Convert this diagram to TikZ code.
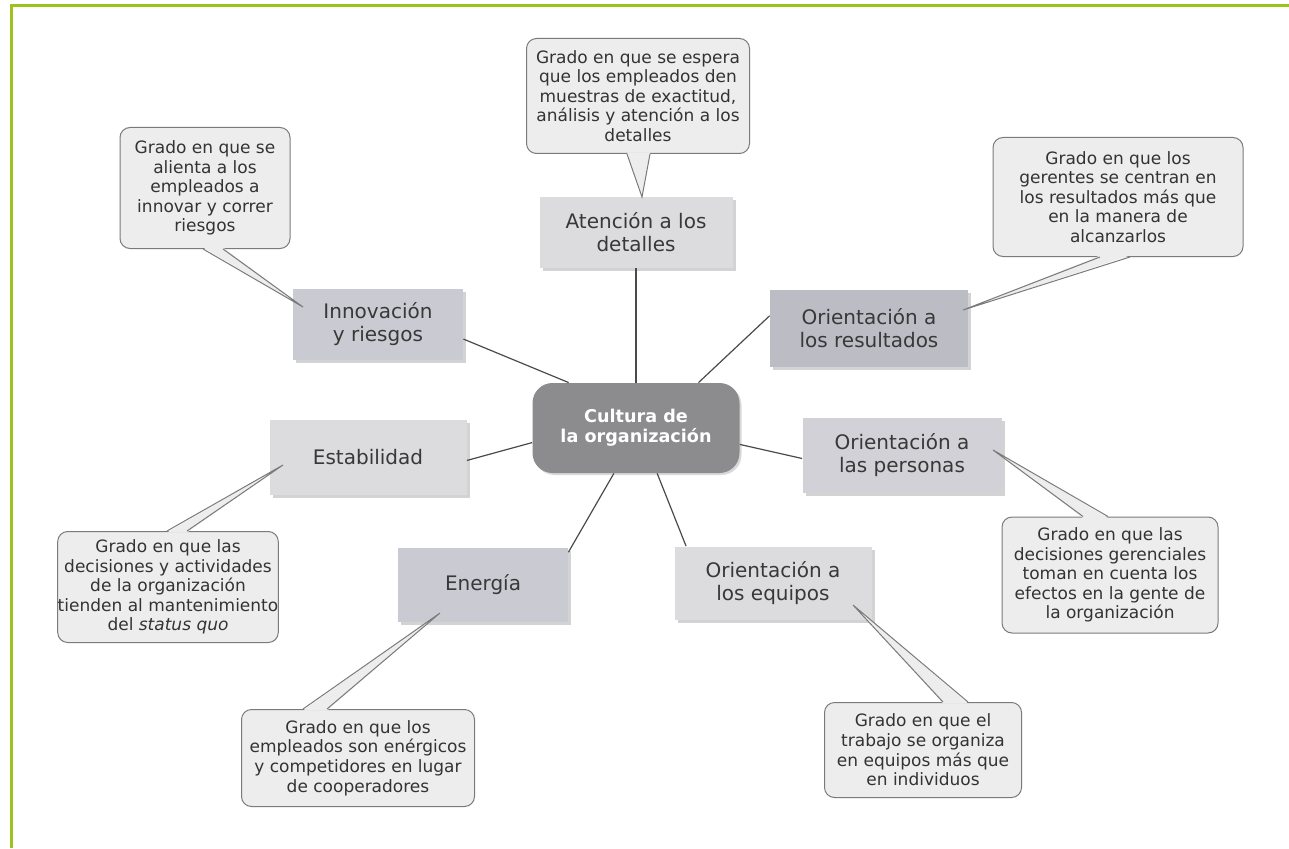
\documentclass[tikz,border=0pt]{standalone}
\usepackage{fontspec}
\setmainfont{DejaVu Sans}
\usetikzlibrary{calc,shadows}

\definecolor{marco}{HTML}{9CC31B}
\definecolor{globo}{HTML}{EDEDED}
\definecolor{borde}{HTML}{7A7A7A}
\definecolor{linea}{HTML}{4A4A4A}
\definecolor{centro}{HTML}{8C8C8F}
\definecolor{grisA}{HTML}{DCDCDF}
\definecolor{grisB}{HTML}{CACAD2}
\definecolor{grisC}{HTML}{BCBCC5}
\definecolor{grisD}{HTML}{D1D1D7}

\tikzset{
	caja/.style={fill=#1, text=black!78, align=center, inner sep=0pt,
		font=\fontsize{10}{11.5}\selectfont,
		drop shadow={shadow xshift=1.5pt, shadow yshift=-1.5pt, opacity=0.35}},
	nucleo/.style={fill=centro, text=white, align=center, inner sep=0pt,
		rounded corners=10pt, font=\fontsize{8.8}{10}\selectfont\bfseries,
		drop shadow={shadow xshift=1pt, shadow yshift=-1pt, opacity=0.3}},
	globotxt/.style={fill=globo, draw=borde, line width=0.5pt, rounded corners=5pt,
		align=center, inner sep=0pt, text=black!80, font=\fontsize{8.5}{9.8}\selectfont},
	punta/.style={fill=globo},
	puntaborde/.style={draw=borde, line width=0.5pt},
	conector/.style={draw=linea, line width=0.6pt}
}

\begin{document}
\begin{tikzpicture}[x=0.5pt,y=0.5pt]
		\useasboundingbox (0,0) rectangle (1289,848);
		\draw[marco,line width=1.5pt] (11.5,0) -- (11.5,842.5) -- (1289,842.5);
		%
		\node[nucleo, minimum width=103.5pt, minimum height=45pt] (cult) at (636,420) {Cultura de\\la organización};
		%
		\node[caja=grisA, minimum width=96.5pt, minimum height=35.5pt] (aten) at (636,616) {Atención a los\\detalles};
		\node[caja=grisB, minimum width=85pt, minimum height=35.5pt] (innov) at (378,524) {Innovación\\y riesgos};
		\node[caja=grisC, minimum width=99pt, minimum height=38.5pt] (res) at (869,520) {Orientación a\\los resultados};
		\node[caja=grisA, minimum width=98.5pt, minimum height=37.5pt] (estab) at (368,391) {Estabilidad};
		\node[caja=grisD, minimum width=99.5pt, minimum height=37.5pt] (pers) at (902,393) {Orientación a\\las personas};
		\node[caja=grisB, minimum width=85pt, minimum height=37pt] (energ) at (483,263) {Energía};
		\node[caja=grisA, minimum width=98.5pt, minimum height=36.5pt] (equip) at (773,265) {Orientación a\\los equipos};
		%
		\draw[conector] (cult.north) -- (aten.south);
		\draw[conector] (cult.146) -- (innov.350);
		\draw[conector] (cult.36) -- (res.173);
		\draw[conector] (cult.188) -- (estab.358);
		\draw[conector] (cult.351) -- (pers.182);
		\draw[conector] (cult.244) -- (energ.21);
		\draw[conector] (cult.295) -- (equip.157);
		%
		\node[globotxt, minimum width=111.5pt, minimum height=57.5pt] (bAten) at (638,752) {Grado en que se espera\\que los empleados den\\muestras de exactitud,\\análisis y atención a los\\detalles};
		\node[globotxt, minimum width=85pt, minimum height=60.5pt] (bInnov) at (205,660) {Grado en que se\\alienta a los\\empleados a\\innovar y correr\\riesgos};
		\node[globotxt, minimum width=125pt, minimum height=59.5pt] (bRes) at (1118,651) {Grado en que los\\gerentes se centran en\\los resultados más que\\en la manera de\\alcanzarlos};
		\node[globotxt, minimum width=110pt, minimum height=55.5pt] (bEstab) at (168,261) {Grado en que las\\decisiones y actividades\\de la organización\\tienden al mantenimiento\\del \textit{status quo}};
		\node[globotxt, minimum width=116.5pt, minimum height=48.5pt] (bEnerg) at (358,90) {Grado en que los\\empleados son enérgicos\\y competidores en lugar\\de cooperadores};
		\node[globotxt, minimum width=108pt, minimum height=58pt] (bPers) at (1110,273) {Grado en que las\\decisiones gerenciales\\toman en cuenta los\\efectos en la gente de\\la organización};
		\node[globotxt, minimum width=98.5pt, minimum height=47.5pt] (bEquip) at (923,98) {Grado en que el\\trabajo se organiza\\en equipos más que\\en individuos};
		%
		\coordinate (tAten) at (642,651);
		\coordinate (tInnov) at (303,541);
		\coordinate (tRes) at (963,538);
		\coordinate (tEstab) at (283,383);
		\coordinate (tEnerg) at (440,235);
		\coordinate (tPers) at (993,398);
		\coordinate (tEquip) at (853,243);
		%
		\fill[punta] ($(bAten.south)+(-11,1.5)$) -- (tAten) -- ($(bAten.south)+(12,1.5)$) -- cycle;
		\draw[puntaborde] ($(bAten.south)+(-11,0)$) -- (tAten) -- ($(bAten.south)+(12,0)$);
		\fill[punta] ($(bInnov.south)+(-2,1.5)$) -- (tInnov) -- ($(bInnov.south)+(18,1.5)$) -- cycle;
		\draw[puntaborde] ($(bInnov.south)+(-2,0)$) -- (tInnov) -- ($(bInnov.south)+(18,0)$);
		\fill[punta] ($(bRes.south)+(-18,1.5)$) -- (tRes) -- ($(bRes.south)+(12,1.5)$) -- cycle;
		\draw[puntaborde] ($(bRes.south)+(-18,0)$) -- (tRes) -- ($(bRes.south)+(12,0)$);
		%
		\fill[punta] ($(bEstab.north)+(-1,-1.5)$) -- (tEstab) -- ($(bEstab.north)+(19,-1.5)$) -- cycle;
		\draw[puntaborde] ($(bEstab.north)+(-1,0)$) -- (tEstab) -- ($(bEstab.north)+(19,0)$);
		\fill[punta] ($(bEnerg.north)+(-55,-1.5)$) -- (tEnerg) -- ($(bEnerg.north)+(-31,-1.5)$) -- cycle;
		\draw[puntaborde] ($(bEnerg.north)+(-55,0)$) -- (tEnerg) -- ($(bEnerg.north)+(-31,0)$);
		\fill[punta] ($(bPers.north)+(-27,-1.5)$) -- (tPers) -- ($(bPers.north)+(-2,-1.5)$) -- cycle;
		\draw[puntaborde] ($(bPers.north)+(-27,0)$) -- (tPers) -- ($(bPers.north)+(-2,0)$);
		\fill[punta] ($(bEquip.north)+(20,-1.5)$) -- (tEquip) -- ($(bEquip.north)+(45,-1.5)$) -- cycle;
		\draw[puntaborde] ($(bEquip.north)+(20,0)$) -- (tEquip) -- ($(bEquip.north)+(45,0)$);
	\end{tikzpicture}
\end{document}
